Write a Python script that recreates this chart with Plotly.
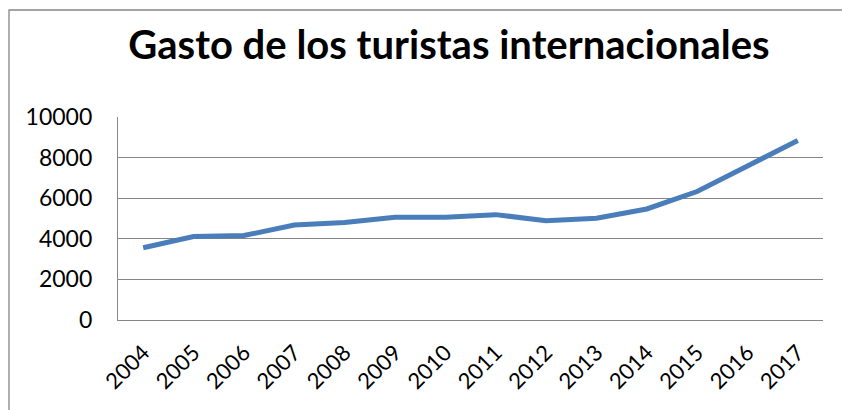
import plotly.graph_objects as go

years = ["2004", "2005", "2006", "2007", "2008", "2009", "2010",
         "2011", "2012", "2013", "2014", "2015", "2016", "2017"]
gasto = [3560, 4110, 4160, 4680, 4800, 5060, 5060,
         5190, 4890, 5010, 5470, 6330, 7590, 8840]
y_ticks = [0, 2000, 4000, 6000, 8000, 10000]
y_labels = ["0", "2000", "4000", "6000", "8000", "10000"]
title_text = "Gasto de los turistas internacionales"

W, H = 842, 410
L, R, T, B = 118, 19, 117, 90
pw, ph = W - L - R, H - T - B

def px_x(p):
    return (p - L) / pw

def px_y(p):
    return (H - B - p) / ph

fig = go.Figure()
fig.add_trace(go.Scatter(
    x=years, y=gasto, mode="lines",
    line=dict(color="#4A7EBB", width=5),
    hoverinfo="x+y",
))

fig.update_layout(
    width=W, height=H,
    margin=dict(l=L, r=R, t=T, b=B, autoexpand=False),
    paper_bgcolor="white", plot_bgcolor="white",
    showlegend=False,
    font=dict(family="Lato, 'Open Sans', sans-serif", color="black"),
    title=dict(text="<b>" + title_text + "</b>", x=(128 + 770) / 2 / W,
               xref="container", xanchor="center", y=1 - 45 / H,
               yref="container", yanchor="middle",
               font=dict(size=40, color="black")),
    xaxis=dict(type="category", tickangle=-45, showgrid=False,
               showline=True, linecolor="#868686", linewidth=1.3,
               zeroline=False, ticks="",
               tickfont=dict(size=22), range=[-0.5, len(years) - 0.5],
               ticklabelstandoff=10),
    yaxis=dict(range=[0, 10000], tickvals=y_ticks, ticktext=y_labels,
               showgrid=True, gridcolor="#868686", gridwidth=1.3,
               zeroline=False, showline=True, linecolor="#868686",
               linewidth=1.3, ticks="", tickfont=dict(size=23),
               ticklabelstandoff=20),
    shapes=[dict(type="rect", xref="paper", yref="paper",
                 x0=px_x(9), x1=px_x(860), y0=px_y(430), y1=px_y(10),
                 line=dict(color="#868686", width=1.3),
                 fillcolor="rgba(0,0,0,0)", layer="below")],
)

fig.write_html("out.html", config={"displayModeBar": False},
               post_script="document.body.style.margin='0';")
